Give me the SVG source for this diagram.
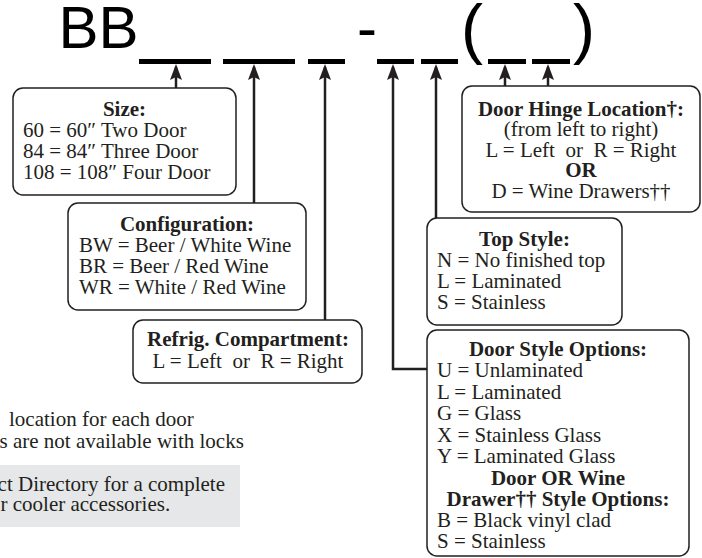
<svg xmlns="http://www.w3.org/2000/svg" width="702" height="558" viewBox="0 0 702 558">
<defs>
<style>
.box{fill:#fff;stroke:#231f20;stroke-width:1.5}
.t{font-family:"Liberation Serif","Times New Roman",serif;font-size:21px;fill:#231f20}
.b{font-weight:bold}
.c{text-anchor:middle}
.big{font-family:"Liberation Sans",Arial,sans-serif;font-size:60px;fill:#000}
.blank{fill:#000}
.conn{fill:none;stroke:#231f20;stroke-width:2.5}
</style>
<marker id="ah" viewBox="0 0 16 12" refX="13" refY="6" markerWidth="16" markerHeight="12" markerUnits="userSpaceOnUse" orient="auto">
<path d="M0,0 L16,6 L0,12 L3,6 z" fill="#231f20"/>
</marker>
</defs>

<g id="code">
<text class="big" x="58.6" y="48">BB</text>
<text class="big" x="357" y="48">-</text>
<text class="big" x="461" y="51" style="font-size:66px">(</text>
<text class="big" x="573" y="51" style="font-size:66px">)</text>
<rect class="blank" x="139" y="59" width="72" height="5"/>
<rect class="blank" x="223" y="59" width="72" height="5"/>
<rect class="blank" x="308" y="59" width="37" height="5"/>
<rect class="blank" x="377" y="59" width="37" height="5"/>
<rect class="blank" x="421" y="59" width="37" height="5"/>
<rect class="blank" x="488" y="59" width="38" height="5"/>
<rect class="blank" x="532" y="59" width="38" height="5"/>
</g>

<g id="connectors">
<path class="conn" d="M176,88 V67" marker-end="url(#ah)"/>
<path class="conn" d="M254,203 V67" marker-end="url(#ah)"/>
<path class="conn" d="M325,320 V67" marker-end="url(#ah)"/>
<path class="conn" d="M427,369 H393 V67" marker-end="url(#ah)"/>
<path class="conn" d="M436,218 V67" marker-end="url(#ah)"/>
<path class="conn" d="M505,86 V67" marker-end="url(#ah)"/>
<path class="conn" d="M548,86 V67" marker-end="url(#ah)"/>
</g>

<g id="size">
<rect class="box" x="13" y="88" width="223" height="107" rx="10"/>
<text class="t b c" x="124.5" y="116">Size:</text>
<text class="t" x="23" y="137">60 = 60″ Two Door</text>
<text class="t" x="23" y="158">84 = 84″ Three Door</text>
<text class="t" x="23" y="179">108 = 108″ Four Door</text>
</g>

<g id="configuration">
<rect class="box" x="68" y="203" width="238" height="107" rx="10"/>
<text class="t b c" x="187" y="231">Configuration:</text>
<text class="t" x="79" y="252">BW = Beer / White Wine</text>
<text class="t" x="79" y="273">BR = Beer / Red Wine</text>
<text class="t" x="79" y="294">WR = White / Red Wine</text>
</g>

<g id="refrig">
<rect class="box" x="133" y="320" width="229" height="63" rx="10"/>
<text class="t b c" x="248" y="346">Refrig. Compartment:</text>
<text class="t c" x="248" y="368" xml:space="preserve">L = Left  or  R = Right</text>
</g>

<g id="hinge">
<rect class="box" x="462" y="86" width="238" height="126" rx="10"/>
<text class="t b c" x="581" y="116">Door Hinge Location†:</text>
<text class="t c" x="581" y="136">(from left to right)</text>
<text class="t c" x="581" y="157" xml:space="preserve">L = Left  or  R = Right</text>
<text class="t b c" x="581" y="177">OR</text>
<text class="t c" x="581" y="198">D = Wine Drawers††</text>
</g>

<g id="topstyle">
<rect class="box" x="427" y="218" width="195" height="107" rx="10"/>
<text class="t b c" x="524.5" y="246">Top Style:</text>
<text class="t" x="437" y="267">N = No finished top</text>
<text class="t" x="437" y="288">L = Laminated</text>
<text class="t" x="437" y="309">S = Stainless</text>
</g>

<g id="doorstyle">
<rect class="box" x="427" y="330" width="262" height="226" rx="10"/>
<text class="t b c" x="558" y="356">Door Style Options:</text>
<text class="t" x="437" y="377">U = Unlaminated</text>
<text class="t" x="437" y="399">L = Laminated</text>
<text class="t" x="437" y="420">G = Glass</text>
<text class="t" x="437" y="442">X = Stainless Glass</text>
<text class="t" x="437" y="463">Y = Laminated Glass</text>
<text class="t b c" x="558" y="485">Door OR Wine</text>
<text class="t b c" x="558" y="506">Drawer†† Style Options:</text>
<text class="t" x="437" y="527">B = Black vinyl clad</text>
<text class="t" x="437" y="548">S = Stainless</text>
</g>

<g id="notes">
<text class="t" x="9" y="426">location for each door</text>
<text class="t" x="-0.5" y="448">s are not available with locks</text>
<rect x="0" y="465" width="240" height="62" fill="#e6e7e8"/>
<text class="t" x="-2.4" y="491">ct Directory for a complete</text>
<text class="t" x="0.5" y="511">r cooler accessories.</text>
</g>
</svg>
